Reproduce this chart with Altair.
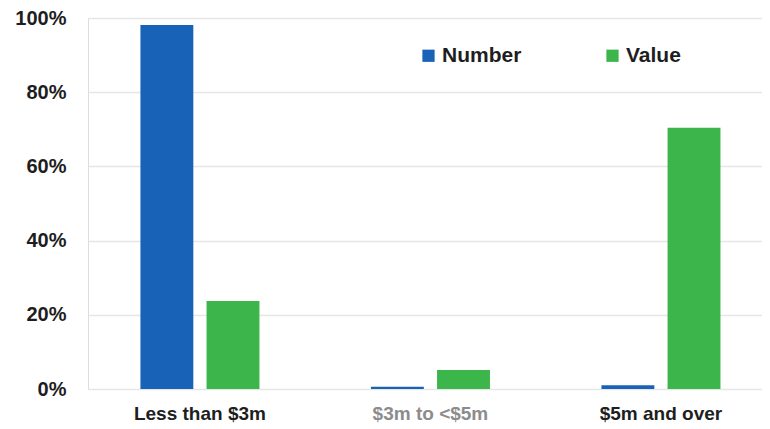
import altair as alt
import pandas as pd

categories = ["Less than $3m", "$3m to <$5m", "$5m and over"]
number_share = [0.981, 0.006, 0.010]
value_share = [0.237, 0.051, 0.704]
series = ["Number", "Value"]
colors = ["#1862b8", "#3cb54a"]

rows = []
for c, n, v in zip(categories, number_share, value_share):
    rows.append({"category": c, "series": "Number", "share": n})
    rows.append({"category": c, "series": "Value", "share": v})
df = pd.DataFrame(rows)

FONT = "Liberation Sans"

chart = alt.Chart(df).mark_bar().encode(
    x=alt.X("category:N", sort=categories, title=None,
            scale=alt.Scale(paddingInner=0.4837, paddingOuter=0.2038, align=0.558),
            axis=alt.Axis(labelAngle=0, labelFont=FONT, labelFontSize=19, labelFontWeight="bold",
                          labelColor=alt.condition("datum.value == '$3m to <$5m'", alt.value("#8c8c8c"), alt.value("#1e1e1e")),
                          labelPadding=15, ticks=False, domain=False, grid=False)),
    xOffset=alt.XOffset("series:N", sort=series, scale=alt.Scale(paddingInner=0.2, paddingOuter=0)),
    y=alt.Y("share:Q", title=None,
            scale=alt.Scale(domain=[0, 1], nice=False),
            axis=alt.Axis(format=".0%", values=[0, 0.2, 0.4, 0.6, 0.8, 1.0],
                          labelFont=FONT, labelFontSize=20, labelFontWeight="bold", labelColor="#1e1e1e",
                          labelPadding=22, ticks=False, domain=False,
                          gridColor="#e6e6e6", gridWidth=1.5)),
    color=alt.Color("series:N", sort=series,
                    scale=alt.Scale(domain=series, range=colors),
                    legend=alt.Legend(title=None, orient="none", legendX=330, legendY=27,
                                      direction="horizontal", symbolType="square", symbolSize=150,
                                      labelFont=FONT, labelFontSize=21, labelFontWeight="bold",
                                      labelColor="#1e1e1e", labelOffset=3, columnPadding=80)),
).properties(
    width=674, height=371,
    autosize=alt.AutoSizeParams(type="none"),
    padding={"top": 10, "left": 80, "right": 0, "bottom": 40},
).configure_view(stroke=None).configure(background="white")

chart.save("out.html", embed_options={"renderer": "svg", "actions": False})
